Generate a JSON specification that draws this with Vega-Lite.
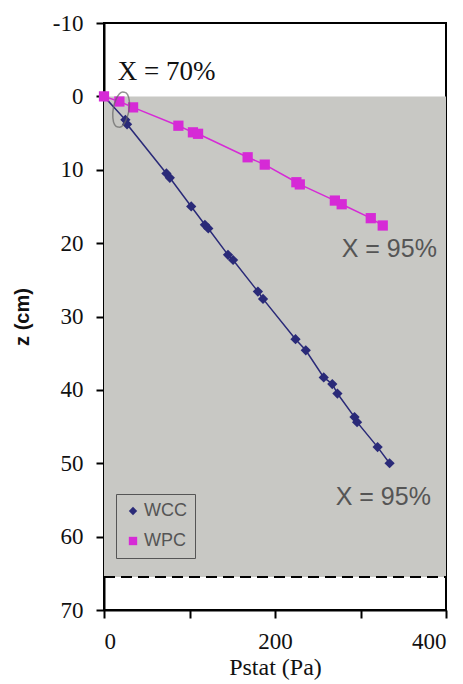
{
  "$schema": "https://vega.github.io/schema/vega-lite/v6.json",
  "width": 342,
  "height": 587,
  "autosize": {"type": "none"},
  "padding": {"left": 104, "top": 23, "right": 17, "bottom": 74},
  "background": "white",
  "config": {
    "view": {"stroke": "black", "strokeWidth": 2},
    "axis": {"grid": false, "domainColor": "black", "domainWidth": 2, "tickColor": "black", "tickWidth": 2, "tickSize": 8, "labelFont": "Liberation Serif", "labelFontSize": 23, "labelColor": "#111"}
  },
  "datasets": {
    "series": [
      {"series": "WCC", "p": 0, "z": 0},
      {"series": "WCC", "p": 25, "z": 3.2},
      {"series": "WCC", "p": 27, "z": 3.8},
      {"series": "WCC", "p": 73, "z": 10.5},
      {"series": "WCC", "p": 77, "z": 11.1},
      {"series": "WCC", "p": 102, "z": 15.0},
      {"series": "WCC", "p": 118, "z": 17.5},
      {"series": "WCC", "p": 122, "z": 18.0},
      {"series": "WCC", "p": 145, "z": 21.6},
      {"series": "WCC", "p": 151, "z": 22.3},
      {"series": "WCC", "p": 180, "z": 26.6},
      {"series": "WCC", "p": 186, "z": 27.6},
      {"series": "WCC", "p": 224, "z": 33.1},
      {"series": "WCC", "p": 236, "z": 34.6},
      {"series": "WCC", "p": 257, "z": 38.3},
      {"series": "WCC", "p": 267, "z": 39.2},
      {"series": "WCC", "p": 273, "z": 40.5},
      {"series": "WCC", "p": 293, "z": 43.7},
      {"series": "WCC", "p": 296, "z": 44.4},
      {"series": "WCC", "p": 320, "z": 47.8},
      {"series": "WCC", "p": 334, "z": 50.0},
      {"series": "WPC", "p": 0, "z": 0},
      {"series": "WPC", "p": 18, "z": 0.7},
      {"series": "WPC", "p": 34, "z": 1.5},
      {"series": "WPC", "p": 87, "z": 4.0},
      {"series": "WPC", "p": 104, "z": 4.9},
      {"series": "WPC", "p": 110, "z": 5.1},
      {"series": "WPC", "p": 168, "z": 8.3},
      {"series": "WPC", "p": 188, "z": 9.3},
      {"series": "WPC", "p": 225, "z": 11.7},
      {"series": "WPC", "p": 229, "z": 12.0},
      {"series": "WPC", "p": 270, "z": 14.2},
      {"series": "WPC", "p": 278, "z": 14.7},
      {"series": "WPC", "p": 312, "z": 16.6},
      {"series": "WPC", "p": 326, "z": 17.6}
    ]
  },
  "layer": [
    {
      "data": {"values": [{"p": 0, "p2": 400, "z": 0, "z2": 65.5}]},
      "mark": {"type": "rect", "fill": "#c8c8c4"},
      "encoding": {
        "x": {"field": "p", "type": "quantitative", "scale": {"domain": [0, 400], "nice": false},
          "axis": {"title": "Pstat (Pa)", "values": [0, 100, 200, 300, 400], "labelExpr": "datum.value % 200 == 0 ? datum.label : ''", "labelPadding": 12, "titleFont": "Liberation Serif", "titleFontSize": 24, "titleFontWeight": "normal", "titleColor": "#111", "titlePadding": 2}},
        "x2": {"field": "p2"},
        "y": {"field": "z", "type": "quantitative", "scale": {"domain": [-10, 70], "reverse": true, "nice": false},
          "axis": {"title": "z (cm)", "values": [-10, 0, 10, 20, 30, 40, 50, 60, 70], "labelExpr": "datum.value < 0 ? '-' + abs(datum.value) : datum.label", "labelPadding": 13, "titleFont": "Liberation Sans", "titleFontSize": 20, "titleFontWeight": "bold", "titleColor": "#111", "titlePadding": 20}},
        "y2": {"field": "z2"}
      }
    },
    {
      "data": {"values": [{"p": 0, "p2": 400, "z": 65.5}]},
      "mark": {"type": "rule", "stroke": "black", "strokeWidth": 2, "strokeDash": [11, 6]},
      "encoding": {
        "x": {"field": "p", "type": "quantitative"},
        "x2": {"field": "p2"},
        "y": {"field": "z", "type": "quantitative"}
      }
    },
    {
      "data": {"name": "series"},
      "mark": {"type": "line", "strokeWidth": 1.5},
      "encoding": {
        "x": {"field": "p", "type": "quantitative"},
        "y": {"field": "z", "type": "quantitative"},
        "order": {"field": "p", "type": "quantitative"},
        "color": {"field": "series", "type": "nominal", "scale": {"domain": ["WCC", "WPC"], "range": ["#2a2a78", "#d62ad6"]}}
      }
    },
    {
      "data": {"name": "series"},
      "mark": {"type": "point", "filled": true, "opacity": 1, "size": 105},
      "encoding": {
        "x": {"field": "p", "type": "quantitative"},
        "y": {"field": "z", "type": "quantitative"},
        "color": {"field": "series", "type": "nominal", "scale": {"domain": ["WCC", "WPC"], "range": ["#2a2a78", "#d62ad6"]},
          "legend": {"title": null, "orient": "none", "legendX": 12, "legendY": 471, "strokeColor": "#555", "fillColor": "#c8c8c4", "padding": 8, "labelFont": "Liberation Sans", "labelFontSize": 18, "labelColor": "#555", "symbolSize": 70, "rowPadding": 12, "labelOffset": 2, "symbolStrokeWidth": 0}},
        "shape": {"field": "series", "type": "nominal", "scale": {"domain": ["WCC", "WPC"], "range": ["diamond", "square"]}}
      }
    },
    {
      "data": {"values": [{"p": 20, "z": 1.8}]},
      "mark": {"type": "point", "filled": false, "stroke": "#666", "strokeWidth": 1.5, "size": 1250, "shape": "M 0.17 -0.98 A 0.4 1 10 1 0 -0.17 0.98 A 0.4 1 10 1 0 0.17 -0.98 Z"},
      "encoding": {
        "x": {"field": "p", "type": "quantitative"},
        "y": {"field": "z", "type": "quantitative"}
      }
    },
    {
      "data": {"values": [{"p": 16, "z": -3.3, "t": "X = 70%"}]},
      "mark": {"type": "text", "align": "left", "baseline": "middle", "font": "Liberation Serif", "fontSize": 27, "color": "#111"},
      "encoding": {
        "x": {"field": "p", "type": "quantitative"},
        "y": {"field": "z", "type": "quantitative"},
        "text": {"field": "t"}
      }
    },
    {
      "data": {"values": [{"p": 278, "z": 20.8, "t": "X = 95%"}, {"p": 271, "z": 54.6, "t": "X = 95%"}]},
      "mark": {"type": "text", "align": "left", "baseline": "middle", "font": "Liberation Sans", "fontSize": 25, "color": "#555"},
      "encoding": {
        "x": {"field": "p", "type": "quantitative"},
        "y": {"field": "z", "type": "quantitative"},
        "text": {"field": "t"}
      }
    }
  ]
}
